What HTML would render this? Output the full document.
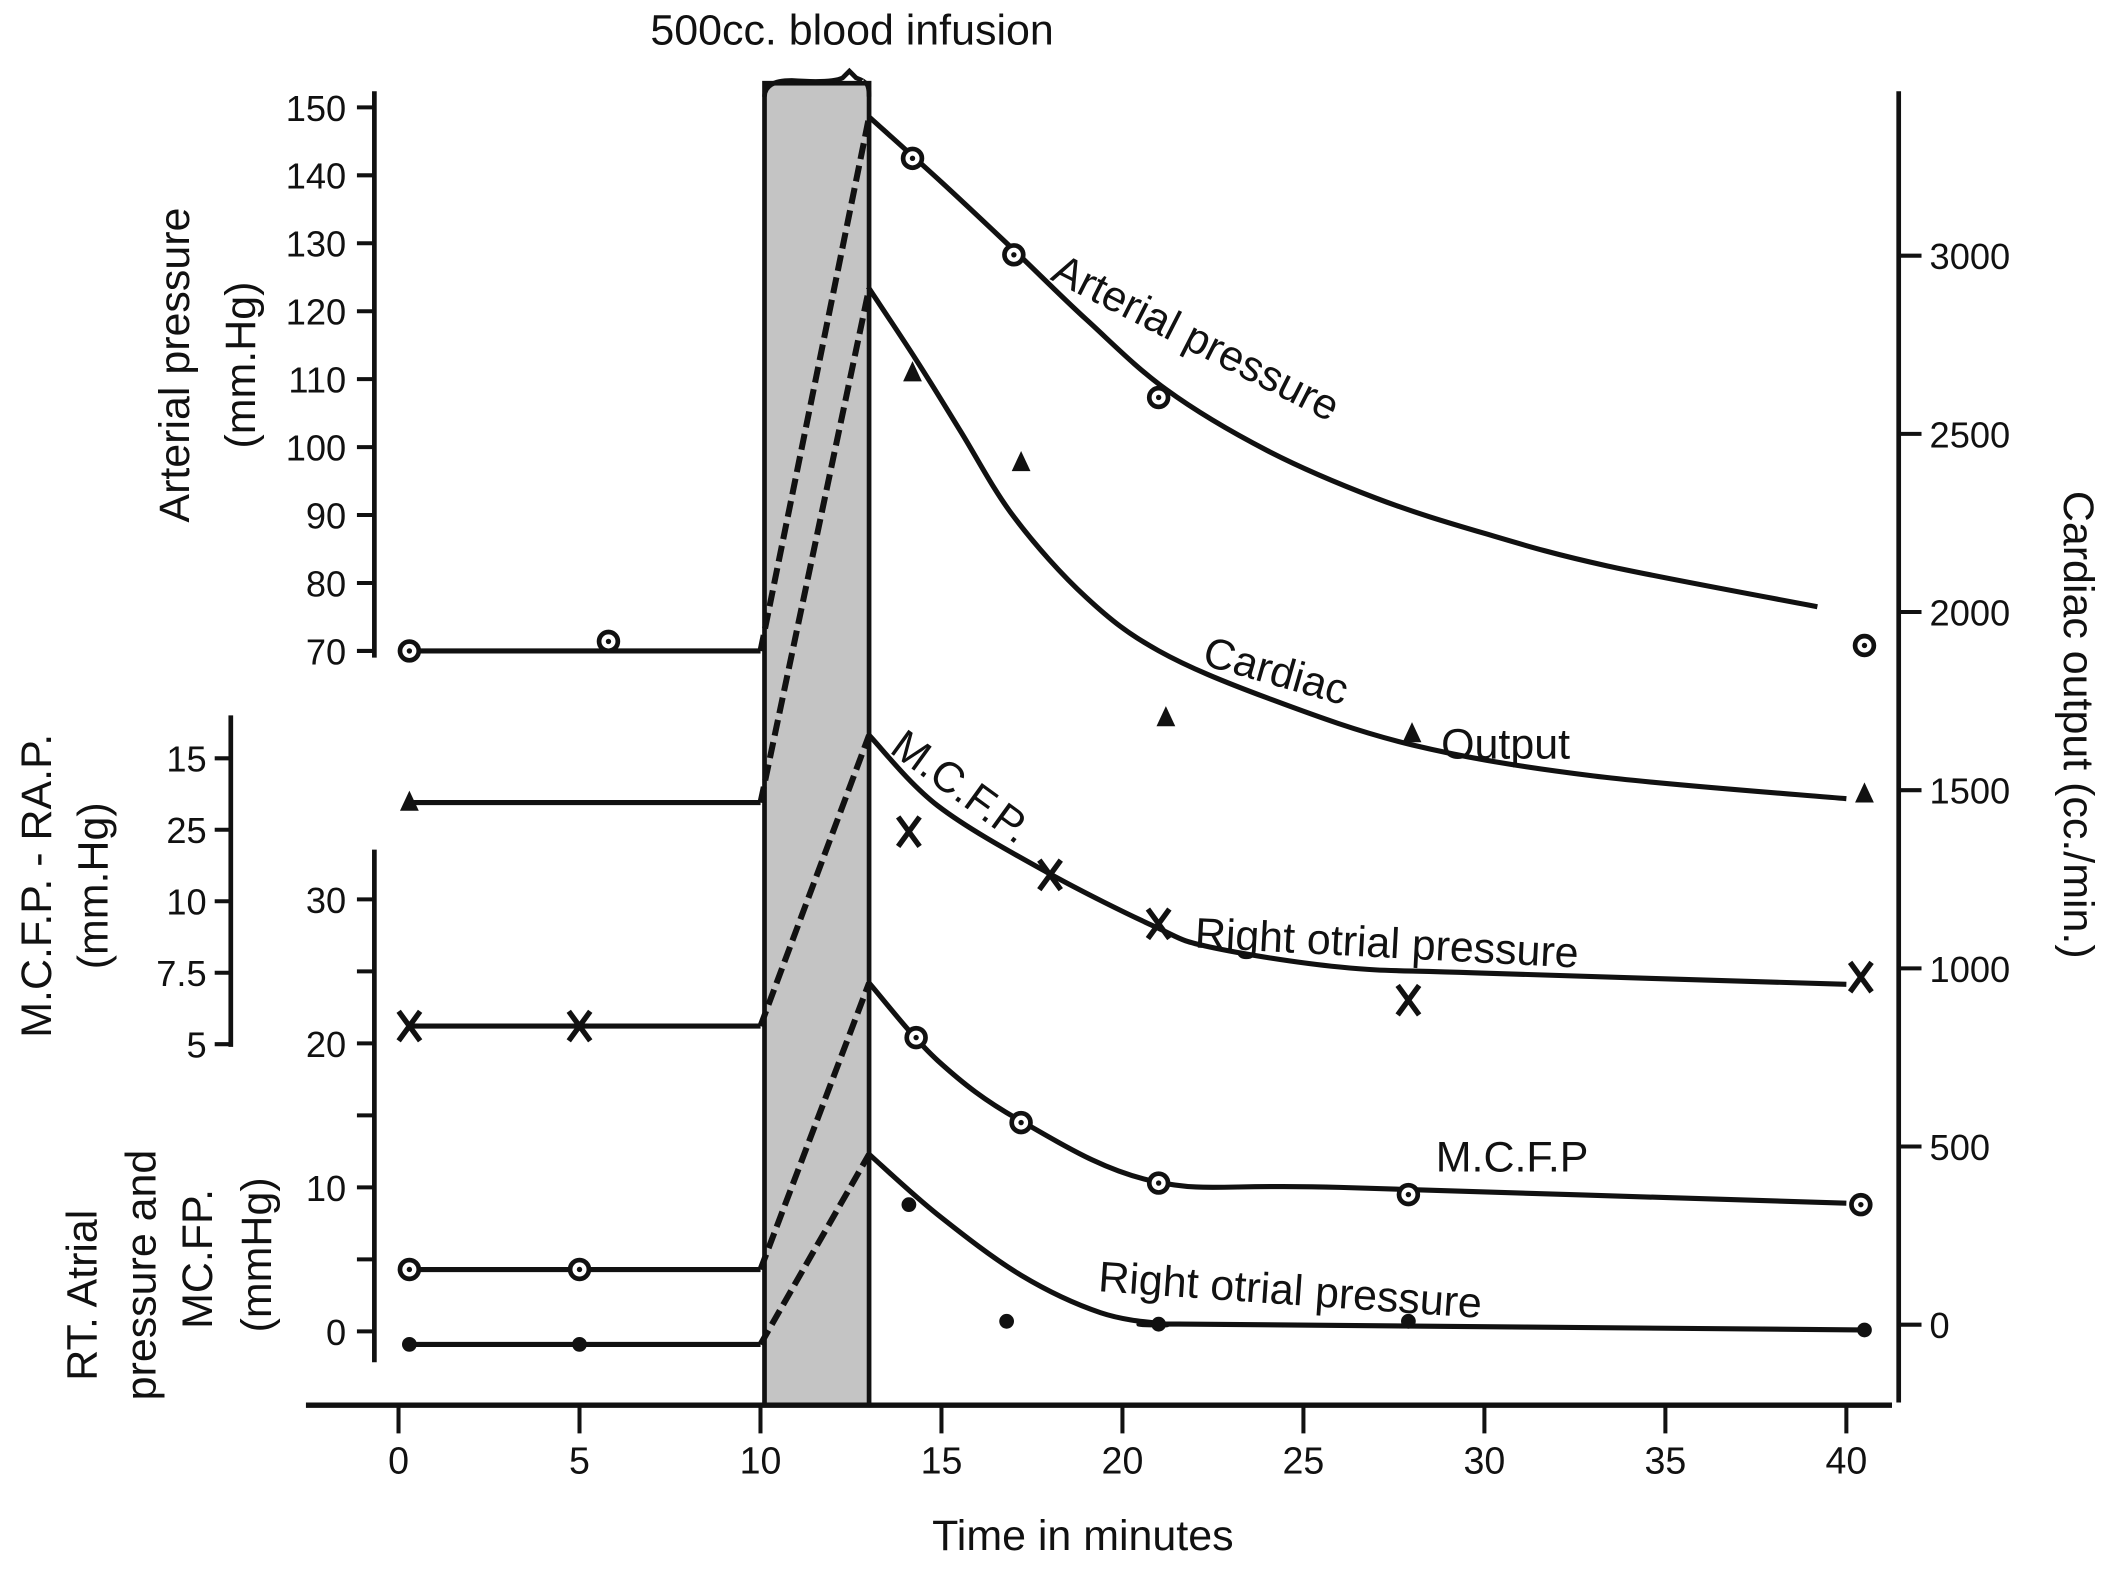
<!DOCTYPE html>
<html><head><meta charset="utf-8">
<style>
html,body{margin:0;padding:0;background:#fff;}
svg{display:block;}
text{font-family:"Liberation Sans",sans-serif;fill:#111;}
</style></head>
<body>
<svg id="chart" width="2104" height="1577" viewBox="0 0 1568 1175" preserveAspectRatio="none" xmlns="http://www.w3.org/2000/svg">
<g id="g"></g>
</svg>
<script>
// ---- data (time in minutes) ----
const xTicks = [0,5,10,15,20,25,30,35,40];
const artTicks = [70,80,90,100,110,120,130,140,150];
const midTickLabels = ["15","25","10","7.5","5"];
const lowTicks = [0,10,20,30];
const lowMinor = [5,15,25];
const coTicks = [0,500,1000,1500,2000,2500,3000];

const artBaseT = [0.3,10], artBaseV = [70,70];
const artCurveT = [13,15,17,19,21.2,24,27,30,33.4,39.2];
const artCurveV = [148.6,139,129,118.8,108.5,99.5,92.5,87.3,82.5,76.5];
const artPtsT = [0.3,5.8,14.2,17.0,21.0,40.5];
const artPtsV = [70,71.4,142.5,128.3,107.3,70.8];

const coBaseT = [0.3,10], coBaseV = [1465,1465];
const coCurveT = [13,14.3,15.5,17,19,21,24,28,33,40];
const coCurveV = [2908,2708,2512,2267,2041,1891,1759,1627,1540,1476];
const coPtsT = [0.3,14.2,17.2,21.2,28,40.5];
const coPtsV = [1465,2670,2418,1702,1657,1488];

const mrBaseT = [0.3,10], mrBaseV = [21.2,21.2];
const mrCurveT = [13,14.9,17.9,20.9,22.4,26,29.7,40];
const mrCurveV = [41.4,36.5,31.9,28.1,26.7,25.3,24.9,24.1];
const mrPtsT = [0.3,5,14.1,18,21,27.9,40.4];
const mrPtsV = [21.2,21.2,34.7,31.7,28.3,23.0,24.6];

const mcBaseT = [0.3,10], mcBaseV = [4.3,4.3];
const mcCurveT = [13,14.9,17.2,20.9,26,40];
const mcCurveV = [24.2,18.8,14.6,10.4,10.0,8.9];
const mcPtsT = [0.3,5,14.3,17.2,21,27.9,40.4];
const mcPtsV = [4.3,4.3,20.4,14.5,10.3,9.5,8.8];

const raBaseT = [0.3,10], raBaseV = [-0.9,-0.9];
const raCurveT = [13,14.9,17.2,19.4,21.2,22,40.4];
const raCurveV = [12.3,8.1,3.9,1.3,0.5,0.5,0.1];
const raPtsT = [0.3,5,14.1,16.8,21,27.9,40.5];
const raPtsV = [-0.9,-0.9,8.8,0.7,0.5,0.7,0.1];

// ---- scales ----
const X = t => 297 + t*26.975;
const YA = v => 485 - (v-70)*5.0625;
const YL = v => 992 - v*10.73;
const YC = v => 987 - v*0.2655;
const YM = i => 565 + i*53.25;

const NS = "http://www.w3.org/2000/svg";
const G = document.getElementById('g');
function el(tag, attrs, parent){
  const e = document.createElementNS(NS, tag);
  for (const k in attrs) e.setAttribute(k, attrs[k]);
  (parent||G).appendChild(e);
  return e;
}
function txt(s, x, y, size, extra){
  const t = el('text', Object.assign({x:x, y:y, 'font-size':size}, extra||{}));
  t.textContent = s;
  return t;
}
function pathFrom(T, V, Y){
  let d = '';
  for (let i=0;i<T.length;i++) d += (i?'L':'M') + X(T[i]).toFixed(1) + ' ' + Y(V[i]).toFixed(1);
  return d;
}
function smoothFrom(T, V, Y){
  const p = T.map((t,i)=>[X(t), Y(V[i])]);
  let d = 'M'+p[0][0]+' '+p[0][1];
  for (let i=0;i<p.length-1;i++){
    const p0=p[Math.max(0,i-1)], p1=p[i], p2=p[i+1], p3=p[Math.min(p.length-1,i+2)];
    const c1x=p1[0]+(p2[0]-p0[0])/6, c1y=p1[1]+(p2[1]-p0[1])/6;
    const c2x=p2[0]-(p3[0]-p1[0])/6, c2y=p2[1]-(p3[1]-p1[1])/6;
    d += 'C'+c1x.toFixed(1)+' '+c1y.toFixed(1)+' '+c2x.toFixed(1)+' '+c2y.toFixed(1)+' '+p2[0].toFixed(1)+' '+p2[1].toFixed(1);
  }
  return d;
}

// infusion band
const band = el('rect',{x:X(10)+3,y:62,width:X(13)-X(10)-3,height:1047-62,fill:'#c4c4c4',stroke:'#111','stroke-width':3.5});


const brace = el('path',{d:'M'+(X(10)+3)+' 72 Q'+(X(10)+3)+' 60 590 60 Q620 62 628 58 L633 53 L638 58 Q645 61 '+(X(13)-4)+' 61 Q'+X(13)+' 62 '+X(13)+' 72',fill:'none',stroke:'#111','stroke-width':3.5});


const bt = txt('500cc. blood infusion', 635, 33, 32, {'text-anchor':'middle'});



// x axis
const xa = el('line',{x1:228,y1:1047,x2:1410,y2:1047,stroke:'#111','stroke-width':4});


xTicks.forEach(t=>{
  el('line',{x1:X(t),y1:1047,x2:X(t),y2:1068,stroke:'#111','stroke-width':3});
  const l = txt(String(t), X(t), 1098, 28, {'text-anchor':'middle'});
  
  
});
const xt = txt('Time in minutes', 807, 1155, 32, {'text-anchor':'middle'});



// arterial axis
const aa = el('line',{x1:279,y1:68,x2:279,y2:490,stroke:'#111','stroke-width':3.5});


artTicks.forEach(v=>{
  el('line',{x1:266,y1:YA(v),x2:279,y2:YA(v),stroke:'#111','stroke-width':3});
  const l = txt(String(v), 258, YA(v)+10, 27, {'text-anchor':'end'});
  
  
});
// middle axis
const ma = el('line',{x1:172,y1:533,x2:172,y2:780,stroke:'#111','stroke-width':3.5});


midTickLabels.forEach((s,i)=>{
  el('line',{x1:160,y1:YM(i),x2:172,y2:YM(i),stroke:'#111','stroke-width':3});
  const l = txt(s, 154, YM(i)+10, 27, {'text-anchor':'end'});
  
  
});
// lower axis
const la = el('line',{x1:279,y1:633,x2:279,y2:1015,stroke:'#111','stroke-width':3.5});


lowTicks.forEach(v=>{
  el('line',{x1:266,y1:YL(v),x2:279,y2:YL(v),stroke:'#111','stroke-width':3});
  const l = txt(String(v), 258, YL(v)+10, 27, {'text-anchor':'end'});
  
  
});
lowMinor.forEach(v=>{ el('line',{x1:266,y1:YL(v),x2:279,y2:YL(v),stroke:'#111','stroke-width':3}); });
// right axis
const ra = el('line',{x1:1415,y1:68,x2:1415,y2:1045,stroke:'#111','stroke-width':3.5});


coTicks.forEach(v=>{
  el('line',{x1:1415,y1:YC(v),x2:1432,y2:YC(v),stroke:'#111','stroke-width':3});
  const l = txt(String(v), 1438, YC(v)+10, 27);
  
  
});

// axis titles
function vt(lines, x, y, rot, name){
  const t = txt(lines, x, y, 32, {'text-anchor':'middle', transform:'rotate('+rot+' '+x+' '+y+')'});
  
  
}
vt('Arterial pressure', 141, 272, -90, 'arterial-axis-title');
vt('(mm.Hg)', 190, 272, -90, 'arterial-axis-unit');
vt('M.C.F.P. - RA.P.', 38, 660, -90, 'mcfp-rap-axis-title');
vt('(mm.Hg)', 80, 660, -90, 'mcfp-rap-axis-unit');
vt('RT. Atrial', 72, 965, -90, 'atrial-axis-title-1');
vt('pressure and', 116, 950, -90, 'atrial-axis-title-2');
vt('MC.FP.', 158, 938, -90, 'atrial-axis-title-3');
vt('(mmHg)', 202, 935, -90, 'atrial-axis-unit');
vt('Cardiac output (cc./min.)', 1538, 540, 90, 'cardiac-output-axis-title');

// series
function series(name, bT, bV, cT, cV, pT, pV, Y, marker){
  const g = el('g',{});
  
  
  const b = el('path',{d:pathFrom(bT,bV,Y),fill:'none',stroke:'#111','stroke-width':3.8},g);
  
  
  const r = el('path',{d:'M'+X(bT[bT.length-1])+' '+Y(bV[bV.length-1])+'L'+X(cT[0])+' '+Y(cV[0]),fill:'none',stroke:'#111','stroke-width':4.5,'stroke-dasharray':'12 5'},g);
  
  
  const c = el('path',{d:smoothFrom(cT,cV,Y),fill:'none',stroke:'#111','stroke-width':3.8},g);
  
  
  pT.forEach((t,i)=>{
    const x = X(t), y = Y(pV[i]);
    let m;
    if (marker==='circle'){
      m = el('g',{},g);
      el('circle',{cx:x,cy:y,r:7,fill:'#fff',stroke:'#111','stroke-width':3.5},m);
      el('circle',{cx:x,cy:y,r:2,fill:'#111'},m);
    } else if (marker==='tri'){
      m = el('path',{d:'M'+x+' '+(y-9)+'L'+(x+7)+' '+(y+6)+'L'+(x-7)+' '+(y+6)+'Z',fill:'#111'},g);
    } else if (marker==='x'){
      m = el('path',{d:'M'+(x-8)+' '+(y-11)+'L'+(x+8)+' '+(y+11)+'M'+(x+8)+' '+(y-11)+'L'+(x-8)+' '+(y+11),stroke:'#111','stroke-width':4,fill:'none'},g);
    } else {
      m = el('circle',{cx:x,cy:y,r:5.5,fill:'#111'},g);
    }
    
    
  });
}
series('arterial-pressure', artBaseT, artBaseV, artCurveT, artCurveV, artPtsT, artPtsV, YA, 'circle');
series('cardiac-output', coBaseT, coBaseV, coCurveT, coCurveV, coPtsT, coPtsV, YC, 'tri');
series('mcfp-minus-rap', mrBaseT, mrBaseV, mrCurveT, mrCurveV, mrPtsT, mrPtsV, YL, 'x');
series('mcfp', mcBaseT, mcBaseV, mcCurveT, mcCurveV, mcPtsT, mcPtsV, YL, 'circle');
series('right-atrial-pressure', raBaseT, raBaseV, raCurveT, raCurveV, raPtsT, raPtsV, YL, 'dot');

// annotations
function ann(s, x, y, rot, name){
  const t = txt(s, x, y, 32, {transform:'rotate('+rot+' '+x+' '+y+')'});
  
  
}
ann('Arterial pressure', 782, 208, 27, 'arterial-pressure-label');
ann('Cardiac', 895, 495, 16, 'cardiac-label');
ann('Output', 1074, 565, 0, 'output-label');
ann('M.C.F.P.', 662, 560, 36, 'mcfp-rap-label');
ann('Right otrial pressure', 890, 706, 3, 'mcfp-rap-right-atrial-label');
ann('M.C.F.P', 1070, 873, 0, 'mcfp-label');
ann('Right otrial pressure', 818, 962, 4, 'right-atrial-label');
</script>
</body></html>
